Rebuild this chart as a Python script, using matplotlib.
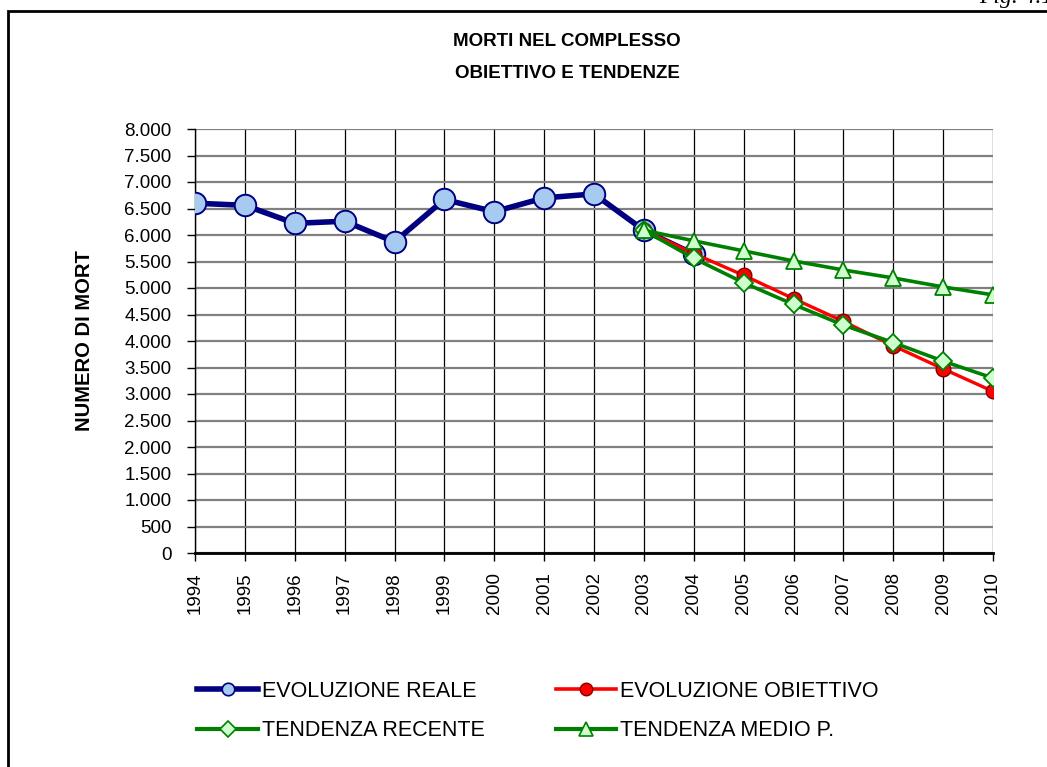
import matplotlib.pyplot as plt
from matplotlib.lines import Line2D
from matplotlib.patches import Rectangle
from matplotlib.ticker import FuncFormatter, MultipleLocator

plt.rcParams["font.family"] = ["Liberation Sans", "DejaVu Sans"]

years_real = [1994, 1995, 1996, 1997, 1998, 1999, 2000, 2001, 2002, 2003, 2004]
real = [6600, 6560, 6220, 6260, 5870, 6670, 6440, 6700, 6775, 6090, 5640]

years_fc = [2003, 2004, 2005, 2006, 2007, 2008, 2009, 2010]
obiettivo = [6090, 5650, 5240, 4800, 4370, 3910, 3475, 3050]
recente = [6090, 5560, 5100, 4690, 4300, 3970, 3620, 3300]
medio = [6090, 5890, 5700, 5510, 5340, 5190, 5020, 4870]

W, H = 1047, 767
fig = plt.figure(figsize=(W / 100, H / 100), dpi=100)

# outer frame of the chart (cut by the page on the right and bottom)
fig.patches.append(Rectangle((8 / W, -0.1), 1.2, 1.1 - 11 / H, transform=fig.transFigure,
                             fill=False, edgecolor="black", linewidth=2))
fig.text(1.006, 1 + 3 / H, "Fig. 4.1", ha="right", va="center", fontsize=17,
         family=["Liberation Serif", "DejaVu Serif"], style="italic")

ax = fig.add_axes([195 / W, 1 - 553 / H, 798 / W, 424 / H])

styles = {
    "reale": dict(color="#000080", marker="o", markerfacecolor="#A6CAF0",
                  markeredgecolor="#000080"),
    "obiettivo": dict(color="#FF0000", marker="o", markerfacecolor="#FF0000",
                      markeredgecolor="#800000"),
    "recente": dict(color="#008000", marker="D", markerfacecolor="#CCFFCC",
                    markeredgecolor="#008000"),
    "medio": dict(color="#008000", marker="^", markerfacecolor="#CCFFCC",
                  markeredgecolor="#008000"),
}

ax.plot(years_real, real, linewidth=4, markersize=15.5, markeredgewidth=1.4,
        zorder=3, **styles["reale"])
ax.plot(years_fc, obiettivo, linewidth=2.4, markersize=10.5, markeredgewidth=1,
        zorder=4, **styles["obiettivo"])
ax.plot(years_fc, recente, linewidth=2.6, markersize=9, markeredgewidth=1.3,
        zorder=5, **styles["recente"])
ax.plot(years_fc, medio, linewidth=2.6, markersize=12, markeredgewidth=1.3,
        zorder=6, **styles["medio"])

ax.set_xlim(1994, 2010)
ax.set_ylim(0, 8000)
ax.set_xticks(range(1994, 2011))
ax.set_xticklabels([str(y) for y in range(1994, 2011)], rotation=90)
ax.yaxis.set_major_locator(MultipleLocator(500))
ax.yaxis.set_major_formatter(FuncFormatter(lambda v, p: f"{int(v):,}".replace(",", ".")))
ax.tick_params(labelsize=13.5, length=6, width=1, color="black")
ax.tick_params(axis="y", pad=11)
ax.tick_params(axis="x", pad=8)

ax.grid(axis="y", color="#808080", linewidth=1.6, zorder=0)
ax.grid(axis="x", color="black", linewidth=0.9, zorder=0)
ax.set_axisbelow(True)
for side in ["top", "right"]:
    ax.spines[side].set_visible(False)
ax.spines["left"].set_linewidth(1)
ax.spines["bottom"].set_linewidth(2)

ax.set_ylabel("NUMERO DI MORT", fontsize=14.5, fontweight="bold")
ax.yaxis.set_label_coords(-0.127, 0.5)

fig.text(567 / W, 1 - 42 / H, "MORTI NEL COMPLESSO", ha="center", va="center",
         fontsize=13.5, fontweight="bold")
fig.text(567 / W, 1 - 74 / H, "OBIETTIVO E TENDENZE", ha="center", va="center",
         fontsize=13.5, fontweight="bold")

# legend handles with the smaller markers used in the legend box
labels = ["EVOLUZIONE REALE", "TENDENZA RECENTE", "EVOLUZIONE OBIETTIVO", "TENDENZA MEDIO P."]
handles = [
    Line2D([], [], linewidth=4, markersize=9, markeredgewidth=1.2, **styles["reale"]),
    Line2D([], [], linewidth=3, markersize=8, markeredgewidth=1.2, **styles["recente"]),
    Line2D([], [], linewidth=2.6, markersize=9, markeredgewidth=1, **styles["obiettivo"]),
    Line2D([], [], linewidth=3, markersize=10, markeredgewidth=1.2, **styles["medio"]),
]
fig.legend(handles, labels, loc="center left", bbox_to_anchor=(178 / W, 1 - 711 / H),
           ncol=2, frameon=False, fontsize=15.5, handlelength=2.8, handletextpad=0.2,
           columnspacing=3.3, labelspacing=0.85)

fig.savefig("out.png", dpi=100)
